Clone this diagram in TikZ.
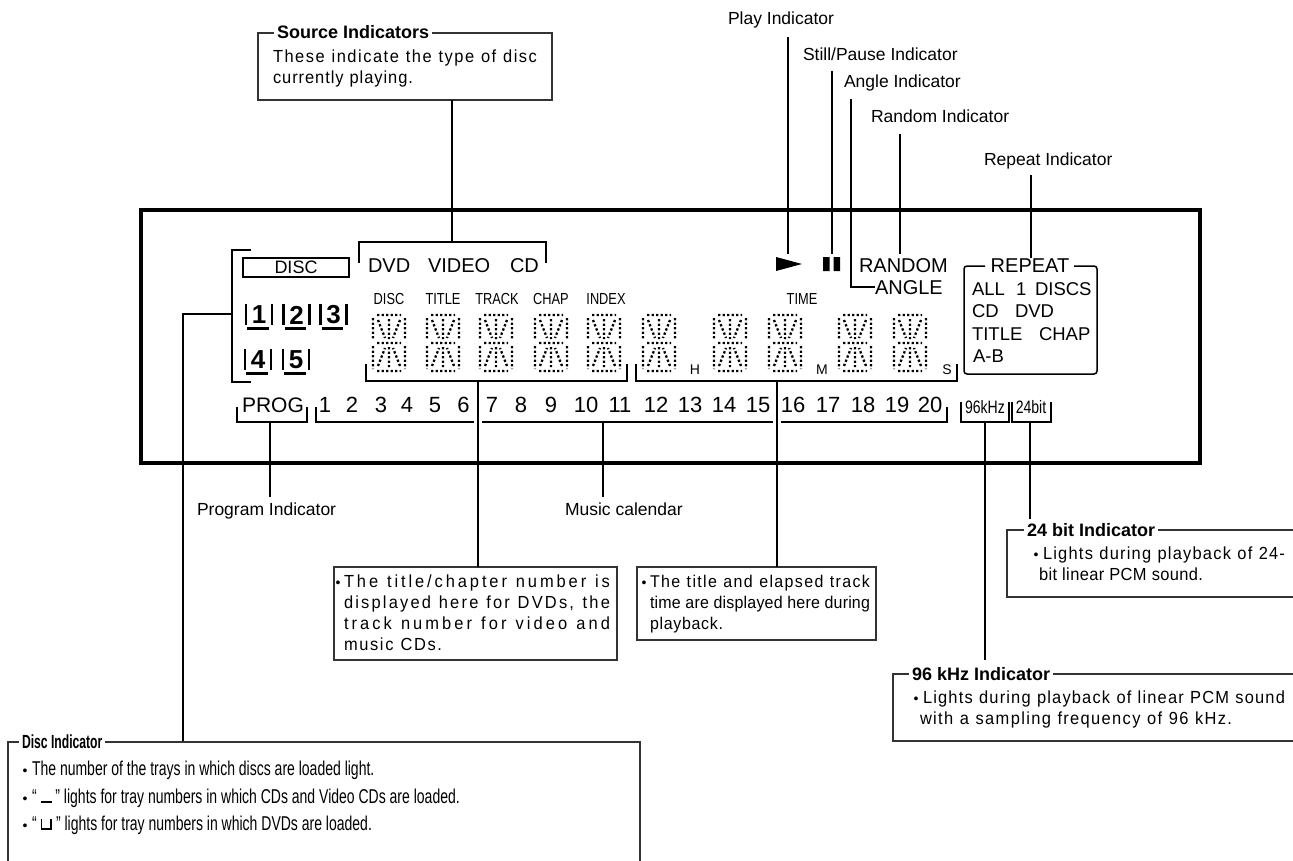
\documentclass[tikz,border=0pt]{standalone}
\usepackage{fontspec}
\setmainfont{Liberation Sans}
\newfontfamily\cond[FakeStretch=0.78]{Liberation Sans}
\newfontfamily\condd[FakeStretch=0.7]{Liberation Sans}
\newfontfamily\condt[FakeStretch=0.64]{Liberation Sans}
\newfontfamily\condl[FakeStretch=0.8]{Liberation Sans}
\newfontfamily\bodyf[FakeStretch=0.94]{Liberation Sans}
\newcommand\fsz[1]{\fontsize{#1}{#1}\selectfont}
% letter-spaced justification
\newcount\lscnt
\lscnt=`A \loop \XeTeXcharclass\lscnt=1 \ifnum\lscnt<`Z \advance\lscnt by 1 \repeat
\lscnt=`a \loop \XeTeXcharclass\lscnt=1 \ifnum\lscnt<`z \advance\lscnt by 1 \repeat
\lscnt=`0 \loop \XeTeXcharclass\lscnt=1 \ifnum\lscnt<`9 \advance\lscnt by 1 \repeat
\XeTeXcharclass`\/=1 \XeTeXcharclass`\,=1 \XeTeXcharclass`\.=1 \XeTeXcharclass`\-=1
\XeTeXinterchartoks 1 1 = {\hskip 0pt plus 1fil\relax}
\newcommand\jl[2]{\makebox[#1][s]{\XeTeXinterchartokenstate=1 \spaceskip=\fontdimen2\font plus 1.5fil\relax #2}}
\begin{document}
\begin{tikzpicture}[x=1pt,y=-1pt,
  every node/.style={inner sep=0pt,outer sep=0pt},
  frame/.style={line width=3.2pt},
  conn/.style={line width=1.9pt},
  brk/.style={line width=1.9pt},
  callout/.style={draw=black!80,line width=1.1pt},
  lbl/.style={font=\fsz{17.5},anchor=base west},
  body/.style={font=\bodyf\fsz{17.5},anchor=base west},
  bulc/.style={font=\fsz{14},anchor=base},
  ttl/.style={font=\fsz{18}\bfseries,anchor=base west,fill=white,inner xsep=3pt,inner ysep=2pt},
  disp/.style={font=\fsz{20},anchor=base west},
  rep/.style={font=\fsz{18.5},anchor=base west},
  small/.style={font=\condl\fsz{16},anchor=base},
  cal/.style={font=\fsz{22},anchor=base},
  tiny/.style={font=\fsz{14},anchor=base},
  bits/.style={font=\cond\fsz{18},anchor=base},
  dlines/.style={font=\condd\fsz{20},anchor=base west},
  dotseg/.style={line width=2.3pt,dash pattern=on 2.3pt off 2.2pt},
  seg/.pic={\draw[dotseg] (5,1)--(29,1) (5,57)--(29,57) (5,29)--(29,29)
      (1,4)--(1,26) (1,32)--(1,55) (33,4)--(33,26) (33,32)--(33,55)
      (17,5)--(17,25) (17,33)--(17,53)
      (6,6)--(13,24) (28,6)--(21,24) (6,52)--(13,34) (28,52)--(21,34);},
  tray/.pic={\node[font=\fsz{26}\bfseries] (-n) at (0,0) {#1};
      \draw[line width=2.8pt] (-13,-11)--(-13,10) (13,-11)--(13,10);
      \draw[line width=2.8pt] (-12,13.5)--(9.5,13.5);}
]
\fill[white] (0,0) rectangle (1293,861);
\useasboundingbox (0,0) rectangle (1293,861);

% ---------- display frame
\draw[frame] (141,210) rectangle (1200,463);

% ---------- top labels
\node[lbl] (playL) at (728,25) {Play Indicator};
\node[lbl] (pauseL) at (803,61) {Still/Pause Indicator};
\node[lbl] (angleL) at (844,88) {Angle Indicator};
\node[lbl] (randL) at (871,123) {Random Indicator};
\node[lbl] (repL) at (984,166) {Repeat Indicator};

% play / pause symbols
\fill (776,257)--(802,264)--(776,271)--cycle;
\fill (823,257) rectangle (829.5,271) (833.5,257) rectangle (840,271);
\coordinate (playT) at (788,37);  \coordinate (playS) at (788,254);
\coordinate (pauseT) at (832,71); \coordinate (pauseS) at (832,254);
\draw[conn] (playT)--(playS);
\draw[conn] (pauseT)--(pauseS);

% random / angle
\node[disp] (random) at (859,272) {RANDOM};
\node[disp] (angle) at (875,294) {ANGLE};
\coordinate (angleT) at (851,99);
\draw[conn] (angleT) |- (angle.west);
\coordinate (randT) at (900,134); \coordinate (randS) at (900,254);
\draw[conn] (randT)--(randS);

% repeat box
\draw[line width=1.5pt,rounded corners=3pt] (985,266)--(964,266)--(964,374)--(1097,374)--(1097,266)--(1074,266);
\node[disp,anchor=base] (repeat) at (1030,272) {REPEAT};
\coordinate (repT) at (1031,175);
\draw[conn] (repT)--(repT |- repeat.north);
\node[rep] (r1a) at (972,295) {ALL};
\node[rep] (r1b) at (1016,295) {1};
\node[rep] (r1c) at (1035,295) {DISCS};
\node[rep] (r2a) at (972,317) {CD};
\node[rep] (r2b) at (1015,317) {DVD};
\node[rep] (r3a) at (972,340) {TITLE};
\node[rep] (r3b) at (1039,340) {CHAP};
\node[rep] (r4a) at (973,362) {A-B};

% ---------- source indicators
\node[callout,minimum width=294pt,minimum height=67pt,anchor=north west] (srcbox) at (258,33) {};
\node[ttl] (srcT) at (274,39) {Source Indicators};
\node[body] (src1) at (273,63) {\jl{264pt}{These indicate the type of disc}};
\node[body] (src2) at (273,84) {\jl{140pt}{currently playing.}};
\coordinate (dvdbr) at (452,242);
\draw[conn] (srcbox.south -| dvdbr)--(dvdbr);
\draw[brk] (359,263)--(359,242)--(546,242)--(546,263);
\node[disp] (dvd) at (368,272) {DVD};
\node[disp] (video) at (428,272) {VIDEO};
\node[disp] (cd) at (510,272) {CD};

% ---------- disc / tray indicators
\draw[brk] (251,250)--(232,250)--(232,382)--(251,382);
\node[draw,line width=1.4pt,minimum width=106pt,minimum height=19pt,font=\fsz{18}] (discbox) at (296,267.5) {DISC};
\pic (tr1) at (259,315) {tray=1};
\pic (tr2) at (296.5,315) {tray=2};
\pic (tr3) at (333.5,315) {tray=3};
\pic (tr4) at (258,360) {tray=4};
\pic (tr5) at (296,360) {tray=5};
\coordinate (discbr) at (232,314);
\coordinate (discK) at (183,314);
\coordinate (discTop) at (183,742);
\draw[conn] (discbr)--(discK)--(discTop);

% ---------- digit labels and digits
\node[small] (lDisc) at (389,304) {DISC};
\node[small] (lTitle) at (443,304) {TITLE};
\node[small] (lTrack) at (497,304) {TRACK};
\node[small] (lChap) at (551,304) {CHAP};
\node[small] (lIndex) at (606,304) {INDEX};
\node[small] (lTime) at (802,304) {TIME};
\foreach \x in {372,426,479,534,587,642,713,768,838,893} \pic at (\x,314) {seg};
\node[tiny] (hH) at (695,374) {H};
\node[tiny] (hM) at (822,374) {M};
\node[tiny] (hS) at (947,374) {S};
\draw[brk] (366,364)--(366,381)--(627,381)--(627,364);
\draw[brk] (636,364)--(636,381)--(957,381)--(957,364);

% ---------- calendar
\node[font=\fsz{21},anchor=base west] (prog) at (242,412) {PROG};
\draw[brk] (237,407)--(237,422)--(307,422)--(307,407);
\foreach \n/\x in {1/325,2/352,3/381,4/407,5/435,6/463.5,7/492,8/521,9/551,10/586,11/620,12/656,13/690,14/724,15/758,16/793,17/828,18/863,19/897,20/930}
  \node[cal] (c\n) at (\x,412) {\n};
\draw[brk] (316,407)--(316,422)--(474,422);
\draw[brk] (482,422)--(773,422);
\draw[brk] (781,422)--(947,422)--(947,407);
\node[bits] (k96) at (985,413) {96kHz};
\node[bits] (b24) at (1031,413) {24bit};
\draw[brk] (961,402)--(961,422)--(1009,422)--(1009,402);
\draw[brk] (1012,402)--(1012,422)--(1051,422)--(1051,402);

% ---------- lower labels
\node[lbl] (progL) at (197,515) {Program Indicator};
\node[lbl] (calL) at (565,515) {Music calendar};
\coordinate (progB) at (270,422); \coordinate (progE) at (270,497);
\draw[conn] (progB)--(progE);
\coordinate (calB) at (603,422); \coordinate (calE) at (603,497);
\draw[conn] (calB)--(calE);

% title/chapter box
\node[callout,minimum width=283pt,minimum height=93pt,anchor=north west] (titlebox) at (334,567) {};
\coordinate (tiBr) at (478,381);
\draw[conn] (tiBr)--(tiBr |- titlebox.north);
\node[bulc] (tb0) at (338,587) {•};
\node[body] (tb1) at (344,587) {\jl{266pt}{The title/chapter number is}};
\node[body] (tb2) at (344,608) {\jl{266pt}{displayed here for DVDs, the}};
\node[body] (tb3) at (344,629) {\jl{266pt}{track number for video and}};
\node[body] (tb4) at (344,650) {\jl{98pt}{music CDs.}};

% elapsed time box
\node[callout,minimum width=239pt,minimum height=73pt,anchor=north west] (elbox) at (637,567) {};
\coordinate (elBr) at (777,381);
\draw[conn] (elBr)--(elBr |- elbox.north);
\node[bulc] (eb0) at (644,587) {•};
\node[body,font=\bodyf\fsz{17}] (eb1) at (650,587) {\jl{220pt}{The title and elapsed track}};
\node[body,font=\bodyf\fsz{17}] (eb2) at (650,608) {\jl{220pt}{time are displayed here during}};
\node[body,font=\bodyf\fsz{17}] (eb3) at (650,629) {\jl{73pt}{playback.}};

% 24 bit box
\draw[callout] (1293,530)--(1007,530)--(1007,597)--(1293,597);
\node[ttl] (t24) at (1024,536) {24 bit Indicator};
\coordinate (b24B) at (1030,422); \coordinate (b24E) at (1030,519);
\draw[conn] (b24B)--(b24E);
\node[bulc] (l24a0) at (1036,559) {•};
\node[body] (l24a) at (1043,559) {\jl{242pt}{Lights during playback of 24-}};
\node[body] (l24b) at (1039,580) {\jl{164pt}{bit linear PCM sound.}};

% 96 kHz box
\draw[callout] (1293,674)--(893,674)--(893,741)--(1293,741);
\node[ttl] (t96) at (909,680) {96 kHz Indicator};
\coordinate (k96B) at (985,422); \coordinate (k96E) at (985,660);
\draw[conn] (k96B)--(k96E);
\node[bulc] (l96a0) at (916,703) {•};
\node[body] (l96a) at (923,703) {\jl{362pt}{Lights during playback of linear PCM sound}};
\node[body] (l96b) at (920,724) {\jl{312pt}{with a sampling frequency of 96 kHz.}};

% disc indicator box
\draw[callout] (8,861)--(8,742)--(640,742)--(640,861);
\node[ttl,font=\condt\fsz{19}\bfseries] (dT) at (19,748) {Disc Indicator};
\node[bulc] (d1b) at (25,775) {•};
\node[dlines] (d1) at (32,775) {The number of the trays in which discs are loaded light.};
\node[bulc] (d2b) at (25,803) {•};
\node[dlines] (d2) at (32,803) {“ \rule[0pt]{11pt}{2.2pt} ” lights for tray numbers in which CDs and Video CDs are loaded.};
\node[bulc] (d3b) at (25,830) {•};
\node[dlines] (d3) at (32,830) {“ \rule[0pt]{1.8pt}{11pt}\rule[0pt]{8pt}{2.2pt}\rule[0pt]{1.8pt}{11pt} ” lights for tray numbers in which DVDs are loaded.};
\end{tikzpicture}
\end{document}
